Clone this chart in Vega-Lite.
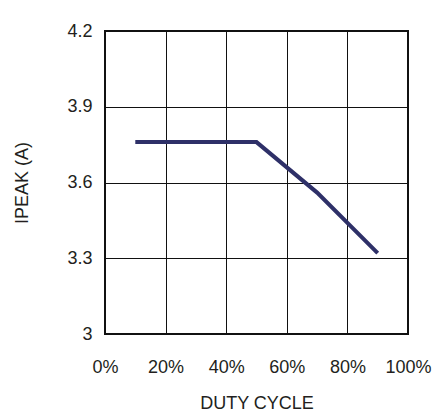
{
  "$schema": "https://vega.github.io/schema/vega-lite/v6.json",
  "autosize": "none",
  "width": 303,
  "height": 303,
  "padding": {"left": 105, "top": 31, "right": 38, "bottom": 82},
  "background": "white",
  "config": {
    "view": {"stroke": "#111", "strokeWidth": 2},
    "font": "Liberation Sans",
    "axis": {
      "domain": false,
      "ticks": false,
      "grid": true,
      "gridColor": "#111",
      "gridOpacity": 1,
      "gridWidth": 1,
      "labelFont": "Liberation Sans",
      "labelFontSize": 18,
      "labelColor": "#231f20",
      "titleFont": "Liberation Sans",
      "titleFontSize": 18,
      "titleFontWeight": "normal",
      "titleColor": "#231f20"
    }
  },
  "data": {
    "values": [
      {"duty": 10, "ipeak": 3.76},
      {"duty": 50, "ipeak": 3.76},
      {"duty": 70, "ipeak": 3.56},
      {"duty": 90, "ipeak": 3.32}
    ]
  },
  "mark": {"type": "line", "color": "#2e3068", "strokeWidth": 4, "strokeJoin": "miter", "strokeCap": "butt"},
  "encoding": {
    "x": {
      "field": "duty",
      "type": "quantitative",
      "scale": {"domain": [0, 100], "nice": false},
      "axis": {
        "title": "DUTY CYCLE",
        "values": [0, 20, 40, 60, 80, 100],
        "labelExpr": "datum.value == 0 ? '\u00a0\u00a00%' : datum.value + '%'",
        "labelPadding": 24,
        "titlePadding": 18,
        "labelFlush": false,
        "labelOverlap": false
      }
    },
    "y": {
      "field": "ipeak",
      "type": "quantitative",
      "scale": {"domain": [3, 4.2], "nice": false, "zero": false},
      "axis": {
        "title": "IPEAK (A)",
        "values": [3, 3.3, 3.6, 3.9, 4.2],
        "format": ".1~f",
        "labelPadding": 13,
        "titlePadding": 35,
        "labelFlush": false,
        "labelOverlap": false
      }
    }
  }
}
